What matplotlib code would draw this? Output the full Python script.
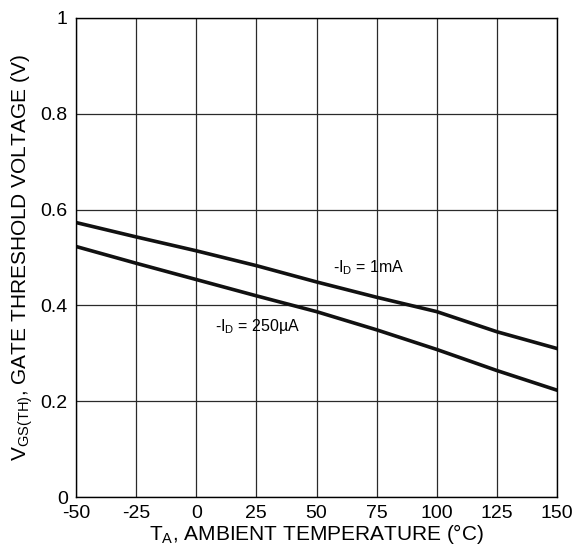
import numpy as np
import matplotlib.pyplot as plt

plt.rcParams['font.family'] = ['Liberation Sans', 'DejaVu Sans']
plt.rcParams['mathtext.fontset'] = 'custom'
plt.rcParams['mathtext.rm'] = 'Liberation Sans'
plt.rcParams['axes.unicode_minus'] = False

# data
temp = [-50, -25, 0, 25, 50, 75, 100, 125, 150]
vth_1ma = [0.573, 0.543, 0.514, 0.483, 0.449, 0.417, 0.387, 0.345, 0.310]
vth_250ua = [0.523, 0.488, 0.454, 0.420, 0.387, 0.349, 0.308, 0.264, 0.223]

x_ticks = [-50, -25, 0, 25, 50, 75, 100, 125, 150]
y_ticks = [0, 0.2, 0.4, 0.6, 0.8, 1]
y_labels = ['0', '0.2', '0.4', '0.6', '0.8', '1']

fig = plt.figure(figsize=(5.73, 5.5), dpi=100)
ax = fig.add_axes([76/573, 53/550, 481/573, 479/550])

ax.plot(temp, vth_1ma, c='#111111', lw=2.6)
ax.plot(temp, vth_250ua, c='#111111', lw=2.6)

ax.set_xlim(-50, 150)
ax.set_ylim(0, 1)
ax.set_xticks(x_ticks)
ax.set_yticks(y_ticks)
ax.set_yticklabels(y_labels)
ax.tick_params(length=0, labelsize=14)
ax.tick_params(axis='y', pad=6)
ax.tick_params(axis='x', pad=6)
ax.grid(True, color='#2a2a2a', lw=0.9)
ax.set_axisbelow(True)
for s in ax.spines.values():
    s.set_color('black')
    s.set_linewidth(1.0)

ax.text(57, 0.478, r'-I$_\mathregular{D}$ = 1mA', fontsize=11.5, va='center')
ax.text(8, 0.355, r'-I$_\mathregular{D}$ = 250µA', fontsize=11.5, va='center')

ax.set_xlabel(r'T$_\mathregular{A}$, AMBIENT TEMPERATURE (°C)', fontsize=15, labelpad=0)
ax.set_ylabel(r'V$_\mathregular{GS(TH)}$, GATE THRESHOLD VOLTAGE (V)', fontsize=15, labelpad=4)

plt.savefig('out.png', dpi=100)
